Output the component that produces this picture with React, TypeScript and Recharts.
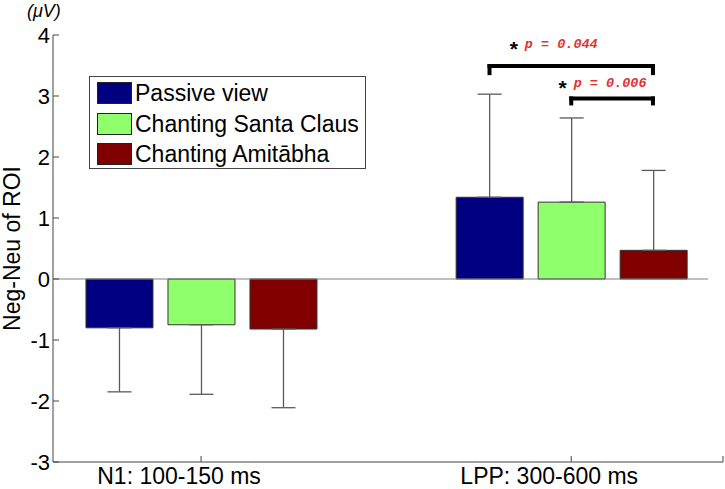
import { BarChart, Bar, XAxis, YAxis, ErrorBar, ReferenceLine, Legend } from 'recharts';

// categories sit at x = 1, 2 on a numeric axis (like the original MATLAB bar plot)
const categories = ['N1: 100-150 ms', 'LPP: 300-600 ms'];
const positions = [1, 2];

const passiveView = [-0.8, 1.34];
const chantingSanta = [-0.75, 1.26];
const chantingAmitabha = [-0.82, 0.47];

// end of the (one-sided) error bars
const passiveTip = [-1.85, 3.03];
const santaTip = [-1.89, 2.64];
const amitabhaTip = [-2.11, 1.78];

const yTicks = [-3, -2, -1, 0, 1, 2, 3, 4];

// significance brackets (series index in the LPP group)
const comparisons = [
  { group: 1, from: 0, to: 2, level: 3.49, p: '0.044' },
  { group: 1, from: 1, to: 2, level: 2.96, p: '0.006' },
];

const series = [
  { key: 'passive', name: 'Passive view', color: '#000080' },
  { key: 'santa', name: 'Chanting Santa Claus', color: '#8fff6c' },
  { key: 'amitabha', name: 'Chanting Amitābha', color: '#800000' },
];

// one-sided error: [below, above]
const err = (v: number, tip: number) => (v < 0 ? [v - tip, 0] : [0, tip - v]);

const data = positions.map((x, i) => ({
  x,
  passive: passiveView[i],
  passiveErr: err(passiveView[i], passiveTip[i]),
  santa: chantingSanta[i],
  santaErr: err(chantingSanta[i], santaTip[i]),
  amitabha: chantingAmitabha[i],
  amitabhaErr: err(chantingAmitabha[i], amitabhaTip[i]),
}));

const W = 725;
const H = 489;
const MARGIN = { top: 35, right: 2, bottom: 0, left: 0 };
const Y_AXIS_W = 53;
const X_AXIS_H = 27;
const X_DOMAIN: [number, number] = [0.6, 2.41];
const Y_DOMAIN: [number, number] = [-3, 4];
const CAT_GAP = 70;
const BAR_GAP = 15;

const FONT = '"Liberation Sans", Arial, sans-serif';

// pixel -> data helpers so brackets line up with the bar centres
const plotW = W - MARGIN.left - MARGIN.right - Y_AXIS_W;
const plotH = H - MARGIN.top - MARGIN.bottom - X_AXIS_H;
const pxPerX = plotW / (X_DOMAIN[1] - X_DOMAIN[0]);
const pxPerY = plotH / (Y_DOMAIN[1] - Y_DOMAIN[0]);
const bandPx = pxPerX * (positions[1] - positions[0]);
const barPx = (bandPx - 2 * CAT_GAP - (series.length - 1) * BAR_GAP) / series.length;
const barCenter = (group: number, idx: number) =>
  positions[group] + ((idx - (series.length - 1) / 2) * (barPx + BAR_GAP)) / pxPerX;

const sigStyle = [
  { textDx: -10, textDy: -18, drop: 7 },
  { textDx: -2, textDy: -11, drop: 5 },
];

const SigLabel = ({ viewBox, p, style }: any) => {
  const { x, y, width } = viewBox;
  const cx = x + width / 2 + style.textDx;
  const by = y + style.textDy;
  const text = `p = ${p}`;
  const textW = text.length * 8.1;
  const start = cx - textW / 2;
  return (
    <g>
      <text x={start - 11} y={by + 8} textAnchor="middle" fontFamily={FONT} fontWeight="bold" fontSize={21} fill="#000">
        *
      </text>
      <text x={start} y={by} fontFamily='"Liberation Mono", monospace' fontStyle="italic" fontWeight="bold" fontSize={13.5} fill="#e53030">
        {text}
      </text>
    </g>
  );
};

// legend rows follow the series order (top to bottom)
const renderLegend = () => (
  <div
    style={{
      border: '1px solid #444',
      background: '#fff',
      padding: '1px 0 0 7px',
      boxSizing: 'border-box',
      width: '100%',
      height: '100%',
      fontFamily: FONT,
    }}
  >
    {series.map((s) => (
      <div key={s.key} style={{ display: 'flex', alignItems: 'center', height: 30.5 }}>
        <span
          style={{
            display: 'inline-block',
            width: 35,
            height: 22,
            background: s.color,
            border: '1px solid #222',
            boxSizing: 'border-box',
          }}
        />
        <span style={{ marginLeft: 3, fontSize: 23, lineHeight: '30px', color: '#000' }}>{s.name}</span>
      </div>
    ))}
  </div>
);

const YLabel = ({ viewBox }: any) => {
  const cy = viewBox.y + viewBox.height / 2;
  return (
    <g>
      <text x={27} y={viewBox.y - 18} fontFamily={FONT} fontStyle="italic" fontSize={18} fill="#000">
        (μV)
      </text>
      <text
        x={20}
        y={cy}
        transform={`rotate(-90, 20, ${cy})`}
        textAnchor="middle"
        fontFamily={FONT}
        fontSize={23}
        fill="#000"
      >
        Neg-Neu of ROI
      </text>
    </g>
  );
};

const XTick = ({ x, y, payload }: any) => (
  <text x={x - 22} y={y} textAnchor="middle" fontFamily={FONT} fontSize={23} fill="#000">
    {categories[positions.indexOf(payload.value)]}
  </text>
);

export default function App() {
  return (
    <div style={{ position: 'absolute', left: 0, top: 0, width: W, height: H, background: '#fff' }}>
      <BarChart
        width={W}
        height={H}
        data={data}
        margin={MARGIN}
        barCategoryGap={CAT_GAP}
        barGap={BAR_GAP}
        style={{ fontFamily: FONT }}
      >
        <XAxis
          type="number"
          dataKey="x"
          domain={X_DOMAIN}
          ticks={positions}
          allowDataOverflow
          height={X_AXIS_H}
          tickSize={-6}
          tickMargin={28}
          axisLine={{ stroke: '#444' }}
          tickLine={{ stroke: '#444' }}
          tick={<XTick />}
          interval={0}
        />
        <YAxis
          type="number"
          domain={Y_DOMAIN}
          ticks={yTicks}
          width={Y_AXIS_W}
          tickSize={-6}
          tickMargin={9}
          interval={0}
          axisLine={{ stroke: '#444' }}
          tickLine={{ stroke: '#444' }}
          tick={{ fill: '#000', fontSize: 22, fontFamily: FONT }}
          label={<YLabel />}
        />
        <ReferenceLine
          segment={[
            { x: X_DOMAIN[0], y: 0 },
            { x: 2.37, y: 0 },
          ]}
          stroke="#808080"
          strokeWidth={1}
        />
        <ReferenceLine
          segment={[
            { x: X_DOMAIN[1], y: Y_DOMAIN[0] },
            { x: X_DOMAIN[1], y: Y_DOMAIN[0] + 6 / pxPerY },
          ]}
          stroke="#444"
        />
        {series.map((s) => (
          <Bar
            key={s.key}
            dataKey={s.key}
            name={s.name}
            fill={s.color}
            stroke="#333"
            strokeWidth={1}
            isAnimationActive={false}
          >
            <ErrorBar dataKey={`${s.key}Err`} width={12} stroke="#5a5a5a" strokeWidth={1.3} direction="y" />
          </Bar>
        ))}
        {comparisons.map((c, i) => {
          const x1 = barCenter(c.group, c.from);
          const x2 = barCenter(c.group, c.to);
          const low = c.level - sigStyle[i].drop / pxPerY;
          return [
            <ReferenceLine
              key={`h${i}`}
              segment={[
                { x: x1, y: c.level },
                { x: x2, y: c.level },
              ]}
              stroke="#000"
              strokeWidth={4}
              strokeLinecap="square"
              label={<SigLabel p={c.p} style={sigStyle[i]} />}
            />,
            <ReferenceLine
              key={`l${i}`}
              segment={[
                { x: x1, y: c.level },
                { x: x1, y: low },
              ]}
              stroke="#000"
              strokeWidth={4}
              strokeLinecap="square"
            />,
            <ReferenceLine
              key={`r${i}`}
              segment={[
                { x: x2, y: c.level },
                { x: x2, y: low },
              ]}
              stroke="#000"
              strokeWidth={4}
              strokeLinecap="square"
            />,
          ];
        })}
        <Legend
          layout="horizontal"
          verticalAlign="middle"
          align="center"
          content={renderLegend}
          wrapperStyle={{ left: 89, top: 76, width: 277, height: 93 }}
        />
      </BarChart>
    </div>
  );
}
